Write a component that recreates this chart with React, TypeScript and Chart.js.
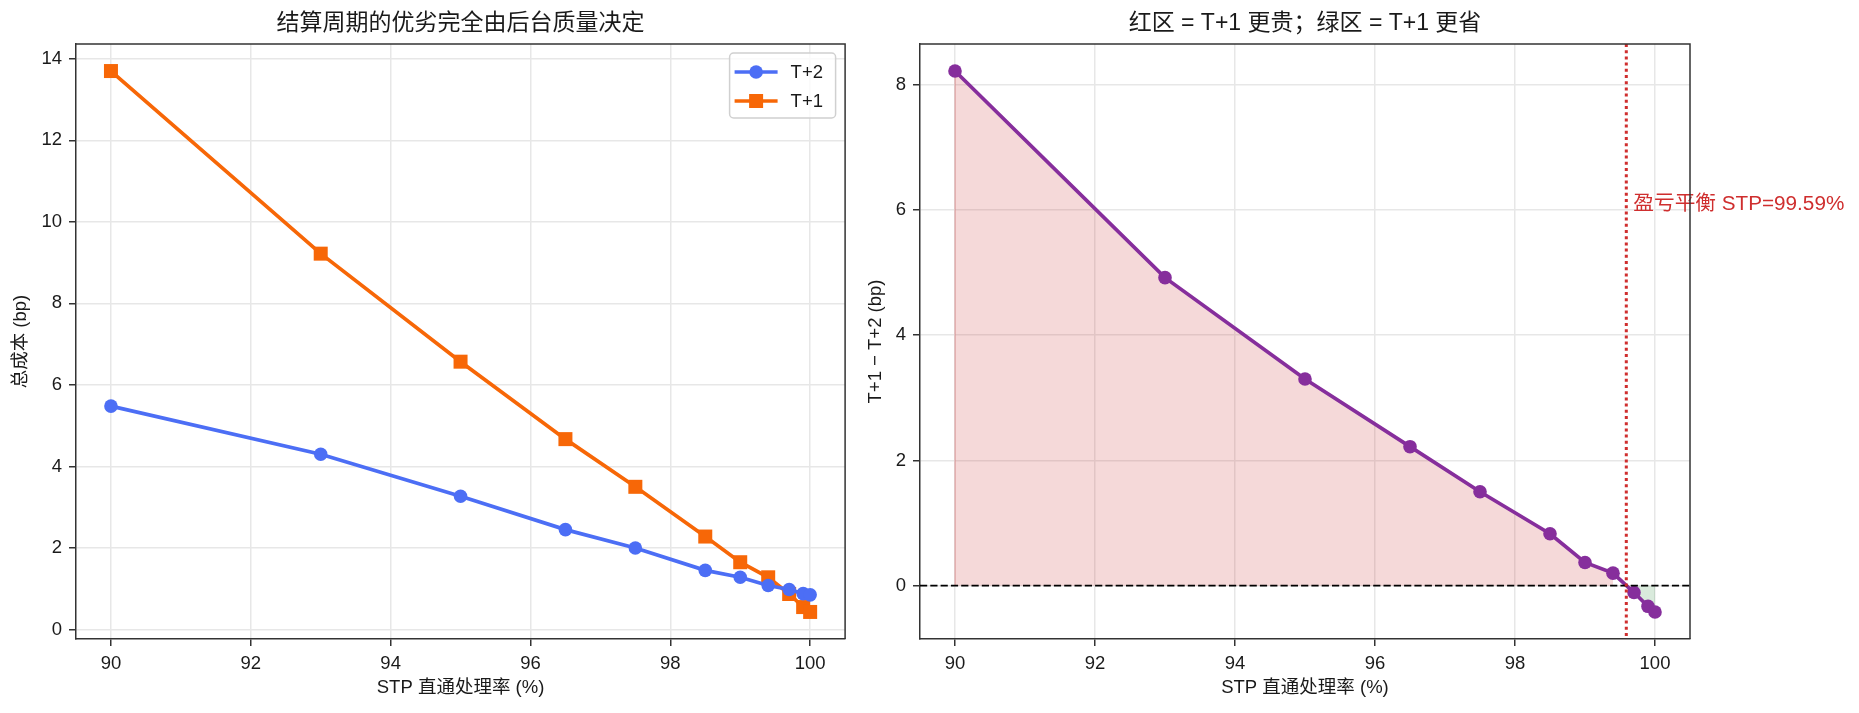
import React, { useEffect, useRef } from "react";
import { Chart, registerables } from "chart.js";

Chart.register(...registerables);

// ---------------- data ----------------
const stpRate = [90, 93, 95, 96.5, 97.5, 98.5, 99, 99.4, 99.7, 99.9, 100];
const costT2 = [5.48, 4.3, 3.27, 2.45, 2.0, 1.45, 1.28, 1.08, 0.98, 0.88, 0.85];
const costT1 = [13.7, 9.22, 6.57, 4.67, 3.5, 2.28, 1.65, 1.28, 0.87, 0.55, 0.43];
const costDiff = [8.22, 4.92, 3.3, 2.22, 1.5, 0.83, 0.37, 0.2, -0.11, -0.33, -0.42];

const xTicks = [90, 92, 94, 96, 98, 100];
const leftYTicks = [0, 2, 4, 6, 8, 10, 12, 14];
const rightYTicks = [0, 2, 4, 6, 8];

const breakEven = 99.59;
const breakEvenLabelY = 6;

const seriesLabels = ["T+2", "T+1"];
const leftTitle = "结算周期的优劣完全由后台质量决定";
const rightTitle = "红区 = T+1 更贵；绿区 = T+1 更省";
const xLabel = "STP 直通处理率 (%)";
const leftYLabel = "总成本 (bp)";
const rightYLabel = "T+1 − T+2 (bp)";
const breakEvenLabel = "盈亏平衡 STP=99.59%";

// ---------------- style ----------------
const FONT = "'Liberation Sans', 'Noto Sans CJK SC', sans-serif";
const TEXT = "#1a1a1a";
const SPINE = "#333333";
const GRID = "#e7e7e7";
const BLUE = "#4c6ef5";
const ORANGE = "#f76707";
const PURPLE = "#862e9c";
const RED = "#cf2e2e";
const RED_FILL = "rgba(201, 42, 42, 0.18)";
const GREEN_FILL = "rgba(43, 138, 62, 0.18)";
const TICK_SIZE = 18.5;
const TITLE_SIZE = 23;

const W = 1859;
const H = 713;
const SPLIT = 855;

function span(values: number[]): [number, number] {
  const lo = Math.min(...values);
  const hi = Math.max(...values);
  const m = (hi - lo) * 0.05;
  return [lo - m, hi + m];
}

const [xMin, xMax] = span(stpRate);
const [lyMin, lyMax] = span([...costT2, ...costT1]);
const [ryMin, ryMax] = span([...costDiff, 0]);

function axis(min: number, max: number, ticks: number[], size: number, horizontal: boolean) {
  return {
    type: "linear" as const,
    min,
    max,
    afterBuildTicks: (s: any) => {
      s.ticks = ticks.map((v) => ({ value: v }));
    },
    afterFit: (s: any) => {
      if (horizontal) s.height = size;
      else s.width = size;
    },
    ticks: {
      color: TEXT,
      font: { size: TICK_SIZE, family: FONT },
      padding: 7,
      autoSkip: false,
      maxRotation: 0,
      minRotation: 0,
    },
    grid: {
      color: GRID,
      lineWidth: 1.5,
      drawTicks: true,
      tickLength: 7,
      tickColor: SPINE,
      tickWidth: 1.5,
    },
    border: { display: true, color: SPINE, width: 1.5 },
  };
}

function decor(title: string, yLabel: string, yLabelGap: number) {
  return {
    id: "decor",
    afterDatasetsDraw(chart: any) {
      const { ctx, chartArea: a } = chart;
      ctx.save();
      ctx.strokeStyle = SPINE;
      ctx.lineWidth = 1.5;
      ctx.beginPath();
      ctx.moveTo(a.left, a.top);
      ctx.lineTo(a.right, a.top);
      ctx.lineTo(a.right, a.bottom);
      ctx.stroke();
      ctx.restore();
    },
    afterDraw(chart: any) {
      const { ctx, chartArea: a } = chart;
      const cx = (a.left + a.right) / 2;
      ctx.save();
      ctx.fillStyle = TEXT;
      ctx.textAlign = "center";
      ctx.textBaseline = "middle";
      ctx.font = `${TITLE_SIZE}px ${FONT}`;
      ctx.fillText(title, cx, 24);
      ctx.font = `${TICK_SIZE}px ${FONT}`;
      ctx.fillText(xLabel, cx, a.bottom + 49);
      ctx.translate(a.left - yLabelGap, (a.top + a.bottom) / 2);
      ctx.rotate(-Math.PI / 2);
      ctx.fillText(yLabel, 0, 0);
      ctx.restore();
    },
  };
}

const legendPlugin = {
  id: "innerLegend",
  afterDraw(chart: any) {
    const { ctx, chartArea: a } = chart;
    const w = 106;
    const h = 65;
    const left = a.right - 9.5 - w;
    const top = a.top + 9;
    ctx.save();
    ctx.beginPath();
    (ctx as any).roundRect(left, top, w, h, 4);
    ctx.fillStyle = "rgba(255,255,255,0.8)";
    ctx.fill();
    ctx.strokeStyle = "#d0d0d0";
    ctx.lineWidth = 1.5;
    ctx.stroke();
    const rows = [
      { label: seriesLabels[0], color: BLUE, shape: "circle", y: top + 19 },
      { label: seriesLabels[1], color: ORANGE, shape: "square", y: top + 48 },
    ];
    for (const r of rows) {
      ctx.strokeStyle = r.color;
      ctx.fillStyle = r.color;
      ctx.lineWidth = 3.7;
      ctx.beginPath();
      ctx.moveTo(left + 5, r.y);
      ctx.lineTo(left + 48, r.y);
      ctx.stroke();
      const mx = left + 26.5;
      if (r.shape === "circle") {
        ctx.beginPath();
        ctx.arc(mx, r.y, 6.8, 0, Math.PI * 2);
        ctx.fill();
      } else {
        ctx.fillRect(mx - 7, r.y - 7, 14, 14);
      }
      ctx.fillStyle = TEXT;
      ctx.font = `${TICK_SIZE}px ${FONT}`;
      ctx.textAlign = "left";
      ctx.textBaseline = "middle";
      ctx.fillText(r.label, left + 61, r.y + 1);
    }
    ctx.restore();
  },
};

const refLinesPlugin = {
  id: "refLines",
  beforeDatasetsDraw(chart: any) {
    // edge of the positive fill region at its first x (as fill_between draws it)
    const { ctx, scales } = chart;
    const first = stpRate[0];
    const x = scales.x.getPixelForValue(first);
    ctx.save();
    ctx.strokeStyle = "rgba(201, 42, 42, 0.25)";
    ctx.lineWidth = 1.5;
    ctx.beginPath();
    ctx.moveTo(x, scales.y.getPixelForValue(0));
    ctx.lineTo(x, scales.y.getPixelForValue(costDiff[0]));
    ctx.stroke();
    ctx.restore();
  },
  afterDatasetsDraw(chart: any) {
    const { ctx, chartArea: a, scales } = chart;
    const y0 = scales.y.getPixelForValue(0);
    const xv = scales.x.getPixelForValue(breakEven);
    ctx.save();
    ctx.beginPath();
    ctx.rect(a.left, a.top, a.right - a.left, a.bottom - a.top);
    ctx.clip();
    ctx.strokeStyle = "#000000";
    ctx.lineWidth = 1.9;
    ctx.setLineDash([7.2, 3.1]);
    ctx.beginPath();
    ctx.moveTo(a.left, y0);
    ctx.lineTo(a.right, y0);
    ctx.stroke();
    ctx.strokeStyle = RED;
    ctx.lineWidth = 3;
    ctx.setLineDash([3, 3.2]);
    ctx.beginPath();
    ctx.moveTo(xv, a.top);
    ctx.lineTo(xv, a.bottom);
    ctx.stroke();
    ctx.restore();

    ctx.save();
    ctx.fillStyle = RED;
    ctx.font = `20.7px ${FONT}`;
    ctx.textAlign = "left";
    ctx.textBaseline = "alphabetic";
    ctx.fillText(
      breakEvenLabel,
      scales.x.getPixelForValue(breakEven + 0.1),
      scales.y.getPixelForValue(breakEvenLabelY)
    );
    ctx.restore();
  },
};

const pts = (ys: number[]) => stpRate.map((x, i) => ({ x, y: ys[i] }));

function leftConfig(): any {
  return {
    type: "line",
    data: {
      datasets: [
        {
          label: seriesLabels[0],
          data: pts(costT2),
          borderColor: BLUE,
          backgroundColor: BLUE,
          borderWidth: 3.7,
          pointStyle: "circle",
          pointRadius: 6.8,
          pointBorderWidth: 0,
          pointBackgroundColor: BLUE,
          fill: false,
        },
        {
          label: seriesLabels[1],
          data: pts(costT1),
          borderColor: ORANGE,
          backgroundColor: ORANGE,
          borderWidth: 3.7,
          pointStyle: "rect",
          pointRadius: 9.9,
          pointBorderWidth: 0,
          pointBackgroundColor: ORANGE,
          fill: false,
        },
      ],
    },
    options: {
      animation: false,
      responsive: false,
      events: [],
      layout: { padding: { left: 0, top: 44, right: SPLIT - 846, bottom: 0 } },
      scales: {
        x: axis(xMin, xMax, xTicks, H - 639, true),
        y: axis(lyMin, lyMax, leftYTicks, 76, false),
      },
      plugins: { legend: { display: false }, tooltip: { enabled: false }, title: { display: false } },
    },
    plugins: [decor(leftTitle, leftYLabel, 55), legendPlugin],
  };
}

function rightConfig(): any {
  const all = pts(costDiff);
  return {
    type: "line",
    data: {
      datasets: [
        {
          label: rightYLabel,
          data: all,
          borderColor: PURPLE,
          backgroundColor: PURPLE,
          borderWidth: 3.7,
          pointStyle: "circle",
          pointRadius: 6.8,
          pointBorderWidth: 0,
          pointBackgroundColor: PURPLE,
          fill: false,
          order: 0,
        },
        {
          label: "positive",
          data: all.filter((p) => p.y > 0),
          borderColor: "rgba(0,0,0,0)",
          borderWidth: 0,
          backgroundColor: RED_FILL,
          pointRadius: 0,
          fill: "origin",
          order: 1,
        },
        {
          label: "negative",
          data: all.filter((p) => p.y < 0),
          borderColor: "rgba(0,0,0,0)",
          borderWidth: 0,
          backgroundColor: GREEN_FILL,
          pointRadius: 0,
          fill: "origin",
          order: 1,
        },
      ],
    },
    options: {
      animation: false,
      responsive: false,
      events: [],
      layout: { padding: { left: 0, top: 44, right: W - SPLIT - (1690 - SPLIT), bottom: 0 } },
      scales: {
        x: axis(xMin, xMax, xTicks, H - 639, true),
        y: axis(ryMin, ryMax, rightYTicks, 920 - SPLIT, false),
      },
      plugins: { legend: { display: false }, tooltip: { enabled: false }, title: { display: false } },
    },
    plugins: [refLinesPlugin, decor(rightTitle, rightYLabel, 44)],
  };
}

function ChartCanvas({ make, left, width }: { make: () => any; left: number; width: number }) {
  const ref = useRef<HTMLCanvasElement>(null);
  useEffect(() => {
    const chart = new Chart(ref.current as HTMLCanvasElement, make());
    return () => chart.destroy();
  }, [make]);
  return (
    <canvas
      ref={ref}
      width={width}
      height={H}
      style={{ position: "absolute", left, top: 0, width, height: H }}
    />
  );
}

export default function App() {
  return (
    <div style={{ position: "absolute", left: 0, top: 0, width: W, height: H, background: "#ffffff" }}>
      <ChartCanvas make={leftConfig} left={0} width={SPLIT} />
      <ChartCanvas make={rightConfig} left={SPLIT} width={W - SPLIT} />
    </div>
  );
}
